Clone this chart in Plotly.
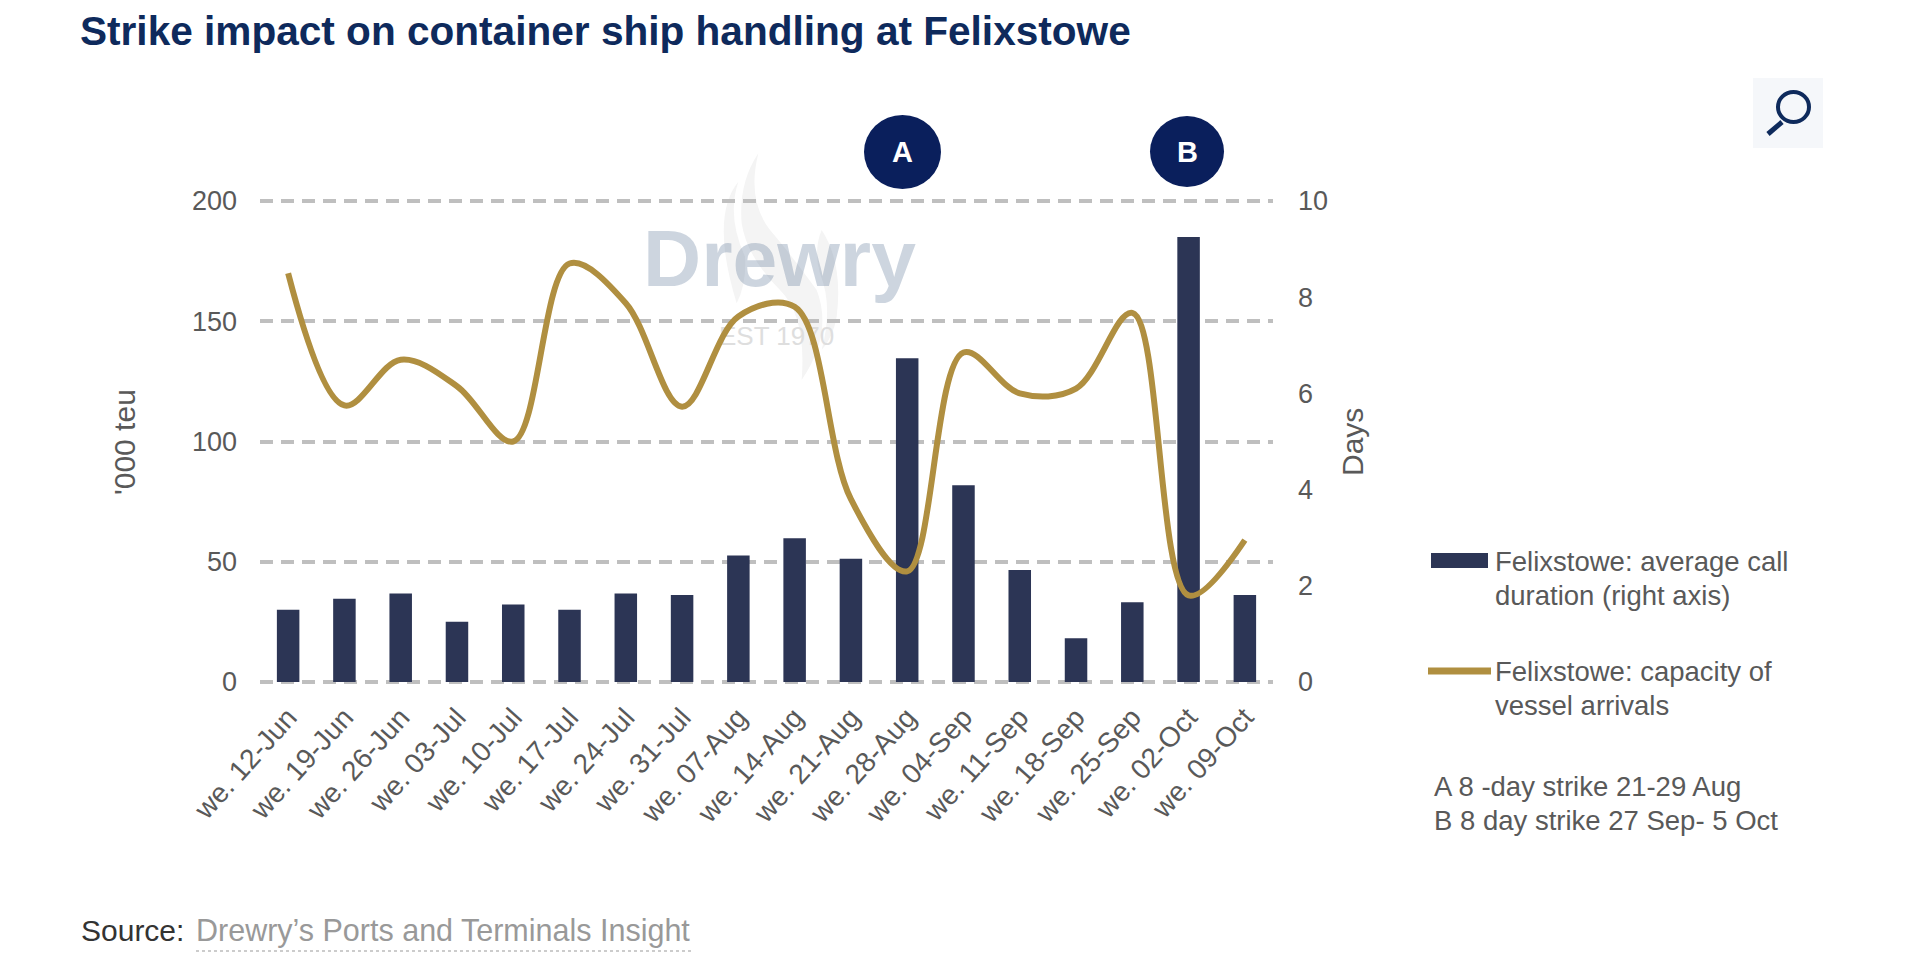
import plotly.graph_objects as go

W, H = 1906, 978

weeks = ["we. 12-Jun", "we. 19-Jun", "we. 26-Jun", "we. 03-Jul", "we. 10-Jul", "we. 17-Jul",
         "we. 24-Jul", "we. 31-Jul", "we. 07-Aug", "we. 14-Aug", "we. 21-Aug", "we. 28-Aug",
         "we. 04-Sep", "we. 11-Sep", "we. 18-Sep", "we. 25-Sep", "we. 02-Oct", "we. 09-Oct"]
call_duration = [1.50, 1.73, 1.84, 1.25, 1.61, 1.50, 1.84, 1.81, 2.63, 2.99, 2.56, 6.73,
                 4.09, 2.33, 0.91, 1.66, 9.25, 1.81]
capacity = [170, 115, 134, 123, 100, 174, 157.5, 114.5, 152, 156, 76, 46,
            137, 120, 122, 153.5, 36, 59]
left_ticks = [0, 50, 100, 150, 200]
right_ticks = [0, 2, 4, 6, 8, 10]

NAVY = "#0E2A5C"
BAR = "#2C3555"
GOLD = "#B08F40"
GREY = "#595959"
FONT = "Liberation Sans"

# plot area in page pixels, widened a little so the 0 and 200 gridlines are kept
LEFT, RIGHT, TOP, BOTTOM = 260, 1273, 198.6, 684.4


def px(x):
    return x / W


def py(y):
    return 1 - y / H


def label(x, y, text, size, color=GREY, xanchor="left", **kw):
    return dict(x=px(x), y=py(y), xref="paper", yref="paper", text=text, showarrow=False,
                xanchor=xanchor, yanchor="middle", font=dict(family=FONT, size=size, color=color), **kw)


def box(kind, x0, y0, x1, y1, **kw):
    return dict(type=kind, xref="paper", yref="paper", x0=px(x0), x1=px(x1), y0=py(y0), y1=py(y1), **kw)


def flame(*pts):
    # quadratic ribbon, pts measured on a 3x crop starting at (630,140)
    conv = [f"{px(630 + a / 3):.5f},{py(140 + b / 3):.5f}" for a, b in pts]
    d = "M " + conv[0]
    for i in range(1, len(conv), 2):
        d += f" Q {conv[i]} {conv[i + 1]}"
    return dict(type="path", xref="paper", yref="paper", layer="below", path=d + " Z",
                line=dict(width=0), fillcolor="#F4F4F4")


fig = go.Figure()
fig.add_trace(go.Bar(x=weeks, y=call_duration, yaxis="y2", name="Felixstowe: average call duration (right axis)",
                     marker=dict(color=BAR, line=dict(width=0)), width=0.4, showlegend=False))
# watermark year sits under the gold line, trailing spaces pull it left of the category centre
fig.add_trace(go.Scatter(x=["we. 14-Aug"], y=[7.15], yaxis="y2", mode="text", text=["EST 1970" + "\u00a0" * 5],
                         hoverinfo="skip", textfont=dict(family=FONT, size=26, color="#DEDEDE"), showlegend=False))
fig.add_trace(go.Scatter(x=weeks, y=capacity, yaxis="y", mode="lines", name="Felixstowe: capacity of vessel arrivals",
                         line=dict(color=GOLD, width=6, shape="spline", smoothing=1), showlegend=False))

shapes = [
    # search button
    box("rect", 1753, 78, 1823, 148, fillcolor="#F5F7FA", line=dict(width=0)),
    box("circle", 1778, 92, 1809, 122, fillcolor="rgba(0,0,0,0)", line=dict(color=NAVY, width=4)),
    box("line", 1782, 122, 1768, 134, line=dict(color=NAVY, width=5)),
    # strike markers
    box("circle", 864, 115, 941, 189, fillcolor="#0A1F5C", line=dict(width=0)),
    box("circle", 1150, 116, 1224, 187, fillcolor="#0A1F5C", line=dict(width=0)),
    # legend swatches
    box("rect", 1431, 553, 1488, 568, fillcolor=BAR, line=dict(width=0)),
    box("line", 1428, 671, 1491, 671, line=dict(color=GOLD, width=7)),
    # source underline
    box("line", 196, 951, 692, 951, line=dict(color="#CCCCCC", width=2, dash="3px,3px")),
    # watermark flame
    flame((385, 40), (325, 130), (335, 250), (350, 350), (450, 450), (530, 530), (515, 720),
          (610, 580), (560, 450), (480, 340), (420, 270), (350, 180), (385, 40)),
    flame((325, 125), (240, 230), (320, 490), (350, 430), (345, 350), (290, 230), (325, 125)),
    flame((575, 270), (640, 370), (620, 530), (610, 590), (575, 630), (610, 500), (570, 400), (550, 330), (575, 270)),
]

annotations = [
    label(78, 31, "<b>Strike impact on container ship handling at Felixstowe</b>", 40.6, NAVY),
    label(902, 152, "<b>A</b>", 29, "white", xanchor="center"),
    label(1187, 152, "<b>B</b>", 29, "white", xanchor="center"),
    label(641, 258, "<b>Drewry</b>", 80.5, "rgba(55,87,127,0.25)"),
    label(124, 442, "'000 teu", 30, xanchor="center", textangle=-90),
    label(1352, 442, "Days", 30, xanchor="center", textangle=-90),
    label(1492.5, 561, "Felixstowe: average call", 27.5),
    label(1492.5, 595, "duration (right axis)", 27.5),
    label(1492.5, 671, "Felixstowe: capacity of", 27.5),
    label(1492.5, 705, "vessel arrivals", 27.5),
    label(1432, 786, "A 8 -day strike 21-29 Aug", 27.5),
    label(1432, 820, "B 8 day strike 27 Sep- 5 Oct", 27.5),
    label(78.5, 930, "Source:", 30, "#333333"),
    label(194, 930, "Drewry’s Ports and Terminals Insight", 30.5, "#999999"),
]

fig.update_layout(
    width=W, height=H, margin=dict(l=0, r=0, t=0, b=0),
    paper_bgcolor="white", plot_bgcolor="rgba(0,0,0,0)",
    font=dict(family=FONT, color=GREY, size=27),
    shapes=shapes, annotations=annotations, showlegend=False,
    xaxis=dict(domain=[px(LEFT), px(RIGHT)], type="category", categoryorder="array", categoryarray=weeks,
               range=[-0.5, 17.5], tickvals=weeks, tickangle=-48,
               showgrid=False, showline=False, ticks="", ticklabelstandoff=10, anchor="y2",
               tickfont=dict(size=28, color=GREY), automargin=False),
    yaxis=dict(domain=[py(BOTTOM), py(TOP)], range=[-1, 201], tickvals=left_ticks, overlaying="y2", side="left",
               showgrid=True, gridcolor="#BFBFBF", gridwidth=3.5, griddash="13px,8px", zeroline=False,
               showline=False, ticks="", ticklabelstandoff=22, tickfont=dict(size=27, color=GREY), automargin=False),
    yaxis2=dict(domain=[py(BOTTOM), py(TOP)], range=[-0.05, 10.05], tickvals=right_ticks, side="right", anchor="x",
                showgrid=False, zeroline=False, showline=False, ticks="", ticklabelstandoff=24,
                tickfont=dict(size=27, color=GREY), automargin=False),
)

fig.write_html("out.html", config=dict(displayModeBar=False),
               post_script="document.body.style.margin='0';document.body.style.overflow='hidden';")
